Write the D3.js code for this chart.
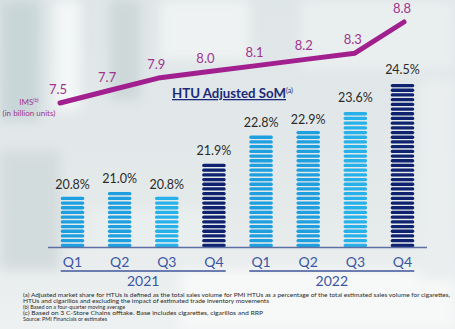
<!DOCTYPE html>
<html>
<head>
<meta charset="utf-8">
<script src="https://d3js.org/d3.v7.min.js"></script>
<style>
  body { margin: 0; }
  svg { display: block; font-family: Lato, "Open Sans", sans-serif; }
</style>
</head>
<body>
<div id="chart"></div>
<script>
// data
const quarters = ["Q1", "Q2", "Q3", "Q4", "Q1", "Q2", "Q3", "Q4"];
const years = ["2021", "2022"];
const somValues = [20.8, 21.0, 20.8, 21.9, 22.8, 22.9, 23.6, 24.5];
const imsValues = [7.5, 7.7, 7.9, 8.0, 8.1, 8.2, 8.3, 8.8];
const footnotes = [
  "(a) Adjusted market share for HTUs is defined as the total sales volume for PMI HTUs as a percentage of the total estimated sales volume for cigarettes,",
  "HTUs and cigarillos and excluding the impact of estimated trade inventory movements",
  "(b) Based on a four-quarter moving average",
  "(c) Based on 3 C-Store Chains offtake. Base includes cigarettes, cigarillos and RRP",
  "Source: PMI Financials or estimates"
];
const footWidths = [427, 246, 102, 240, 84];

const W = 455, H = 329;
const idx = d3.range(somValues.length);

const svg = d3.select("#chart").append("svg")
  .attr("width", W).attr("height", H);

// blurred photo-like background
const defs = svg.append("defs");
defs.append("filter").attr("id", "blur")
  .attr("x", "-20%").attr("y", "-20%").attr("width", "140%").attr("height", "140%")
  .append("feGaussianBlur").attr("stdDeviation", 6);
const bg = defs.append("linearGradient").attr("id", "bg").attr("x1", 0).attr("y1", 0).attr("x2", 0).attr("y2", 1);
bg.append("stop").attr("offset", "0%").attr("stop-color", "#dfe6e7");
bg.append("stop").attr("offset", "60%").attr("stop-color", "#e4e9ea");
bg.append("stop").attr("offset", "100%").attr("stop-color", "#eef1f2");
svg.append("rect").attr("width", W).attr("height", H).attr("fill", "url(#bg)");
const blobs = svg.append("g").attr("filter", "url(#blur)");
[[0, 0, 40, 120, "#c9d6d8"], [55, 0, 25, 110, "#f4f7f7"], [110, 0, 30, 100, "#cdd8d9"],
 [160, 0, 90, 60, "#eef2f2"], [300, 0, 155, 70, "#e9eeef"], [0, 150, 60, 120, "#d3dcdd"],
 [90, 210, 120, 40, "#e9eeee"], [180, 270, 275, 60, "#f7f8f8"], [420, 80, 35, 200, "#eaeeef"]]
  .forEach(b => blobs.append("rect").attr("x", b[0]).attr("y", b[1])
    .attr("width", b[2]).attr("height", b[3]).attr("fill", b[4]));

// bars
const x = d3.scaleBand().domain(idx).range([48, 427]).paddingInner(0.5).paddingOuter(0.27);
const y = d3.scaleLinear().domain([19.09, 24.5]).range([247, 79]);
const barColor = i => (i % 4 === 3) ? "#0f2270" : (i % 4 === 2 ? "#27b1ea" : "#1d9fe0");

const stripe = 4.7, stripeH = 3.3;
const bars = svg.append("g");
idx.forEach(i => {
  const top = y(somValues[i]);
  const n = Math.floor((247 - top) / stripe);
  bars.append("g").selectAll("rect")
    .data(d3.range(n))
    .join("rect")
    .attr("x", x(i))
    .attr("y", k => 247 - (k + 1) * stripe + (stripe - stripeH))
    .attr("width", x.bandwidth())
    .attr("height", stripeH)
    .attr("rx", 1.6)
    .attr("fill", barColor(i));
});

svg.append("g").selectAll("text")
  .data(idx)
  .join("text")
  .attr("x", i => x(i) + x.bandwidth() / 2)
  .attr("y", i => y(somValues[i]) - 5)
  .attr("text-anchor", "middle")
  .attr("font-size", 12.5)
  .attr("fill", "#2b2b2b")
  .text(i => somValues[i].toFixed(1) + "%");

// axis
svg.append("line").attr("x1", 48).attr("x2", 427).attr("y1", 247.5).attr("y2", 247.5)
  .attr("stroke", "#5d6fa5").attr("stroke-width", 1.3);

svg.append("g").selectAll("text")
  .data(idx)
  .join("text")
  .attr("x", i => x(i) + x.bandwidth() / 2)
  .attr("y", 267)
  .attr("text-anchor", "middle")
  .attr("font-size", 14)
  .attr("fill", "#3a56a3")
  .text(i => quarters[i]);

years.forEach((yr, j) => {
  const x0 = x(j * 4), x1 = x(j * 4 + 3) + x.bandwidth();
  svg.append("line").attr("x1", x0).attr("x2", x1).attr("y1", 271).attr("y2", 271)
    .attr("stroke", "#6a7cb0").attr("stroke-width", 1.8);
  svg.append("text").attr("x", (x0 + x1) / 2).attr("y", 286)
    .attr("text-anchor", "middle").attr("font-size", 14).attr("fill", "#3a56a3").text(yr);
});

// IMS line
const lx = d3.scalePoint().domain(idx).range([60, 404]);
const ly = d3.scaleLinear().domain([7.5, 8.8]).range([103, 22]);
svg.append("path")
  .datum(idx)
  .attr("d", d3.line().x(i => lx(i)).y(i => ly(imsValues[i])))
  .attr("fill", "none")
  .attr("stroke", "#a11f8e")
  .attr("stroke-width", 5)
  .attr("stroke-linecap", "round")
  .attr("stroke-linejoin", "round");

svg.append("g").selectAll("text")
  .data(idx)
  .join("text")
  .attr("x", i => lx(i) - 2)
  .attr("y", i => ly(imsValues[i]) - 9)
  .attr("text-anchor", "middle")
  .attr("font-size", 13)
  .attr("fill", "#a0358f")
  .text(i => imsValues[i].toFixed(1));

const ims = svg.append("text").attr("x", 29).attr("y", 105).attr("text-anchor", "middle")
  .attr("font-size", 8).attr("fill", "#a0358f");
ims.append("tspan").text("IMS");
ims.append("tspan").attr("font-size", 5).attr("dy", -3).text("(b)");
svg.append("text").attr("x", 29).attr("y", 116).attr("text-anchor", "middle")
  .attr("font-size", 8).attr("fill", "#a0358f").text("(in billion units)");

// HTU title
const t = svg.append("text").attr("x", 172).attr("y", 98)
  .attr("font-size", 13).attr("font-weight", "bold").attr("fill", "#1c2b78");
t.append("tspan").attr("text-decoration", "underline")
  .attr("textLength", 114).attr("lengthAdjust", "spacingAndGlyphs").text("HTU Adjusted SoM");
t.append("tspan").attr("font-size", 7).attr("font-weight", "normal").attr("dy", -5).text("(a)");

// footnotes
svg.append("g").selectAll("text")
  .data(footnotes)
  .join("text")
  .attr("x", 23)
  .attr("y", (d, i) => 297 + i * 6.1)
  .attr("font-size", 6.1)
  .attr("fill", "#2a2a2a")
  .attr("textLength", (d, i) => footWidths[i])
  .attr("lengthAdjust", "spacingAndGlyphs")
  .text(d => d);
</script>
</body>
</html>
